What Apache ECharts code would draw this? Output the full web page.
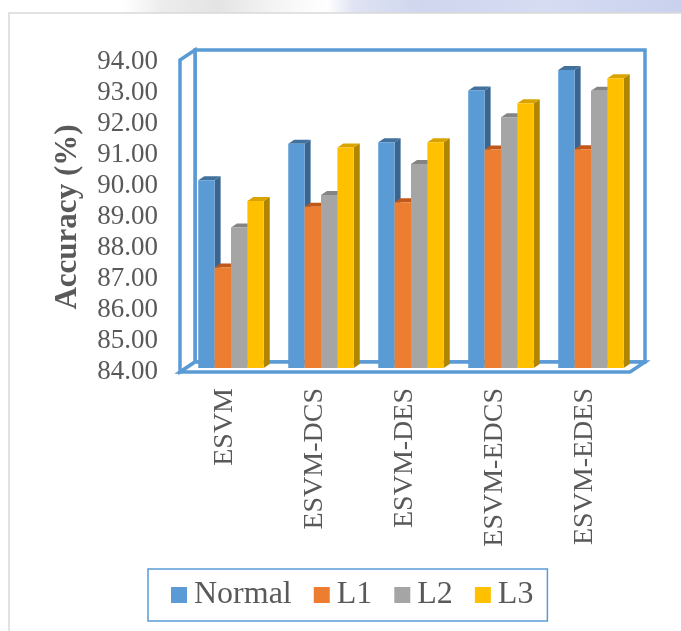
<!DOCTYPE html>
<html>
<head>
<meta charset="utf-8">
<script src="https://cdn.jsdelivr.net/npm/echarts@6/dist/echarts.min.js"></script>
<style>
  html, body { margin: 0; padding: 0; background: #ffffff; }
  #chart { width: 681px; height: 631px; }
</style>
</head>
<body>
<div id="chart"></div>
<script>
// Categories and accuracy values per setting
const categories = ['ESVM', 'ESVM-DCS', 'ESVM-DES', 'ESVM-EDCS', 'ESVM-EDES'];
const seriesNames = ['Normal', 'L1', 'L2', 'L3'];
const normalValues = [90.06, 91.23, 91.28, 92.95, 93.61];
const l1Values = [87.24, 89.20, 89.35, 91.05, 91.06];
const l2Values = [88.53, 89.58, 90.58, 92.09, 92.94];
const l3Values = [89.39, 91.11, 91.28, 92.54, 93.35];
const yMin = 84, yMax = 94, yStep = 1;

// Face colours: front, top, side
const palette = [
  { front: '#5B9BD5', top: '#41719C', side: '#3A6591' },
  { front: '#ED7D31', top: '#C0581A', side: '#AE5A21' },
  { front: '#A5A5A5', top: '#848484', side: '#787878' },
  { front: '#FFC000', top: '#D9A300', side: '#B08600' }
];

// Depth of the plot box (back wall offset from front plane)
const DEPTH_X = 15, DEPTH_Y = -10;
const FRAME_COLOR = '#5B9BD5';
const TEXT_COLOR = '#595959';
const SERIF = '"Liberation Serif", "Times New Roman", serif';

const chart = echarts.init(document.getElementById('chart'), null, { renderer: 'canvas' });

function barRenderer(idx) {
  return function (params, api) {
    const cat = api.value(0);
    const val = api.value(1);
    const top = api.coord([cat, val]);
    const base = api.coord([cat, yMin]);
    const band = api.size([1, 0])[0];
    const groupW = band * 0.728;
    const w = groupW / 4;
    const x0 = top[0] - groupW / 2 + idx * w;
    // bars sit between 40% and 80% of the box depth
    const f1 = 0.4, f2 = 0.8;
    const ax = DEPTH_X * f1, ay = DEPTH_Y * f1;
    const bx = DEPTH_X * f2, by = DEPTH_Y * f2;
    const c = palette[idx];
    const yT = top[1], yB = base[1];
    return {
      type: 'group',
      children: [
        {
          type: 'polygon',
          shape: { points: [[x0 + w + ax, yT + ay], [x0 + w + bx, yT + by], [x0 + w + bx, yB + by], [x0 + w + ax, yB + ay]] },
          style: { fill: c.side }
        },
        {
          type: 'polygon',
          shape: { points: [[x0 + ax, yT + ay], [x0 + w + ax, yT + ay], [x0 + w + bx, yT + by], [x0 + bx, yT + by]] },
          style: { fill: c.top }
        },
        {
          type: 'rect',
          shape: { x: x0 + ax, y: yT + ay, width: w, height: yB - yT },
          style: { fill: c.front }
        }
      ]
    };
  };
}

function frameRenderer(params, api) {
  const n = categories.length;
  const band = api.size([1, 0])[0];
  const left = api.coord([0, yMin])[0] - band / 2;
  const right = api.coord([n - 1, yMin])[0] + band / 2;
  const bottom = api.coord([0, yMin])[1];
  const topY = api.coord([0, yMax])[1] - 2;
  const dx = DEPTH_X, dy = DEPTH_Y;
  const line = { stroke: FRAME_COLOR, lineWidth: 3.5, lineJoin: 'miter' };
  return {
    type: 'group',
    children: [
      { // back wall
        type: 'polygon',
        shape: { points: [[left + dx, topY + dy], [right + dx, topY + dy], [right + dx, bottom + dy], [left + dx, bottom + dy]] },
        style: Object.assign({ fill: '#ffffff' }, line)
      },
      { // side wall
        type: 'polygon',
        shape: { points: [[left, topY], [left + dx, topY + dy], [left + dx, bottom + dy], [left, bottom]] },
        style: Object.assign({ fill: '#ffffff' }, line)
      },
      { // floor
        type: 'polygon',
        shape: { points: [[left, bottom], [left + dx, bottom + dy], [right + dx, bottom + dy], [right, bottom]] },
        style: Object.assign({ fill: '#ffffff' }, line)
      }
    ]
  };
}

const valueSets = [normalValues, l1Values, l2Values, l3Values];

const series = [{
  type: 'custom',
  name: 'frame',
  renderItem: frameRenderer,
  data: [[0, yMin]],
  z: 1,
  silent: true
}];
valueSets.forEach(function (vals, i) {
  series.push({
    type: 'custom',
    name: seriesNames[i],
    renderItem: barRenderer(i),
    itemStyle: { color: palette[i].front },
    data: vals.map(function (v, k) { return [k, v]; }),
    encode: { x: 0, y: 1 },
    z: 2 + i
  });
});

chart.setOption({
  animation: false,
  backgroundColor: '#ffffff',
  graphic: [
    {
      type: 'rect',
      shape: { x: 0, y: 0, width: 681, height: 13 },
      style: {
        fill: new echarts.graphic.LinearGradient(0, 0, 1, 0, [
          { offset: 0, color: '#ffffff' },
          { offset: 0.18, color: '#ffffff' },
          { offset: 0.24, color: '#ececec' },
          { offset: 0.32, color: '#e4e4e4' },
          { offset: 0.40, color: '#f4f4f4' },
          { offset: 0.48, color: '#ffffff' },
          { offset: 0.52, color: '#dfe3f2' },
          { offset: 0.62, color: '#cfd6ee' },
          { offset: 0.80, color: '#d6dcf2' },
          { offset: 1, color: '#c9d1ee' }
        ])
      },
      z: -10
    },
    {
      type: 'rect',
      shape: { x: 9, y: 13, width: 700, height: 700 },
      style: { fill: '#ffffff', stroke: '#d9d9d9', lineWidth: 1.5 },
      z: -9
    }
  ],
  grid: { left: 180, right: 51, top: 62, bottom: 259 },
  legend: {
    data: seriesNames.map(function (n) { return { name: n, icon: 'rect' }; }),
    left: 148,
    top: 569,
    itemWidth: 16,
    itemHeight: 16,
    itemGap: 22,
    padding: [10, 14, 10, 23],
    borderColor: FRAME_COLOR,
    borderWidth: 1.5,
    textStyle: { fontFamily: SERIF, fontSize: 32, color: TEXT_COLOR, padding: [0, 0, 0, 2] }
  },
  xAxis: {
    type: 'category',
    data: categories,
    axisLine: { show: false },
    axisTick: { show: false },
    axisLabel: {
      rotate: 90,
      margin: 16,
      fontFamily: SERIF,
      fontSize: 28,
      color: TEXT_COLOR,
      interval: 0
    }
  },
  yAxis: {
    type: 'value',
    min: yMin,
    max: yMax,
    interval: yStep,
    name: 'Accuracy (%)',
    nameLocation: 'middle',
    nameGap: 97,
    nameTextStyle: { fontFamily: SERIF, fontSize: 31, fontWeight: 'bold', color: TEXT_COLOR },
    axisLine: { show: false },
    axisTick: { show: false },
    splitLine: { show: false },
    axisLabel: {
      margin: 22,
      fontFamily: SERIF,
      fontSize: 27,
      color: TEXT_COLOR,
      padding: [4, 0, 0, 0],
      formatter: function (v) { return v.toFixed(2); }
    }
  },
  series: series
});
</script>
</body>
</html>
